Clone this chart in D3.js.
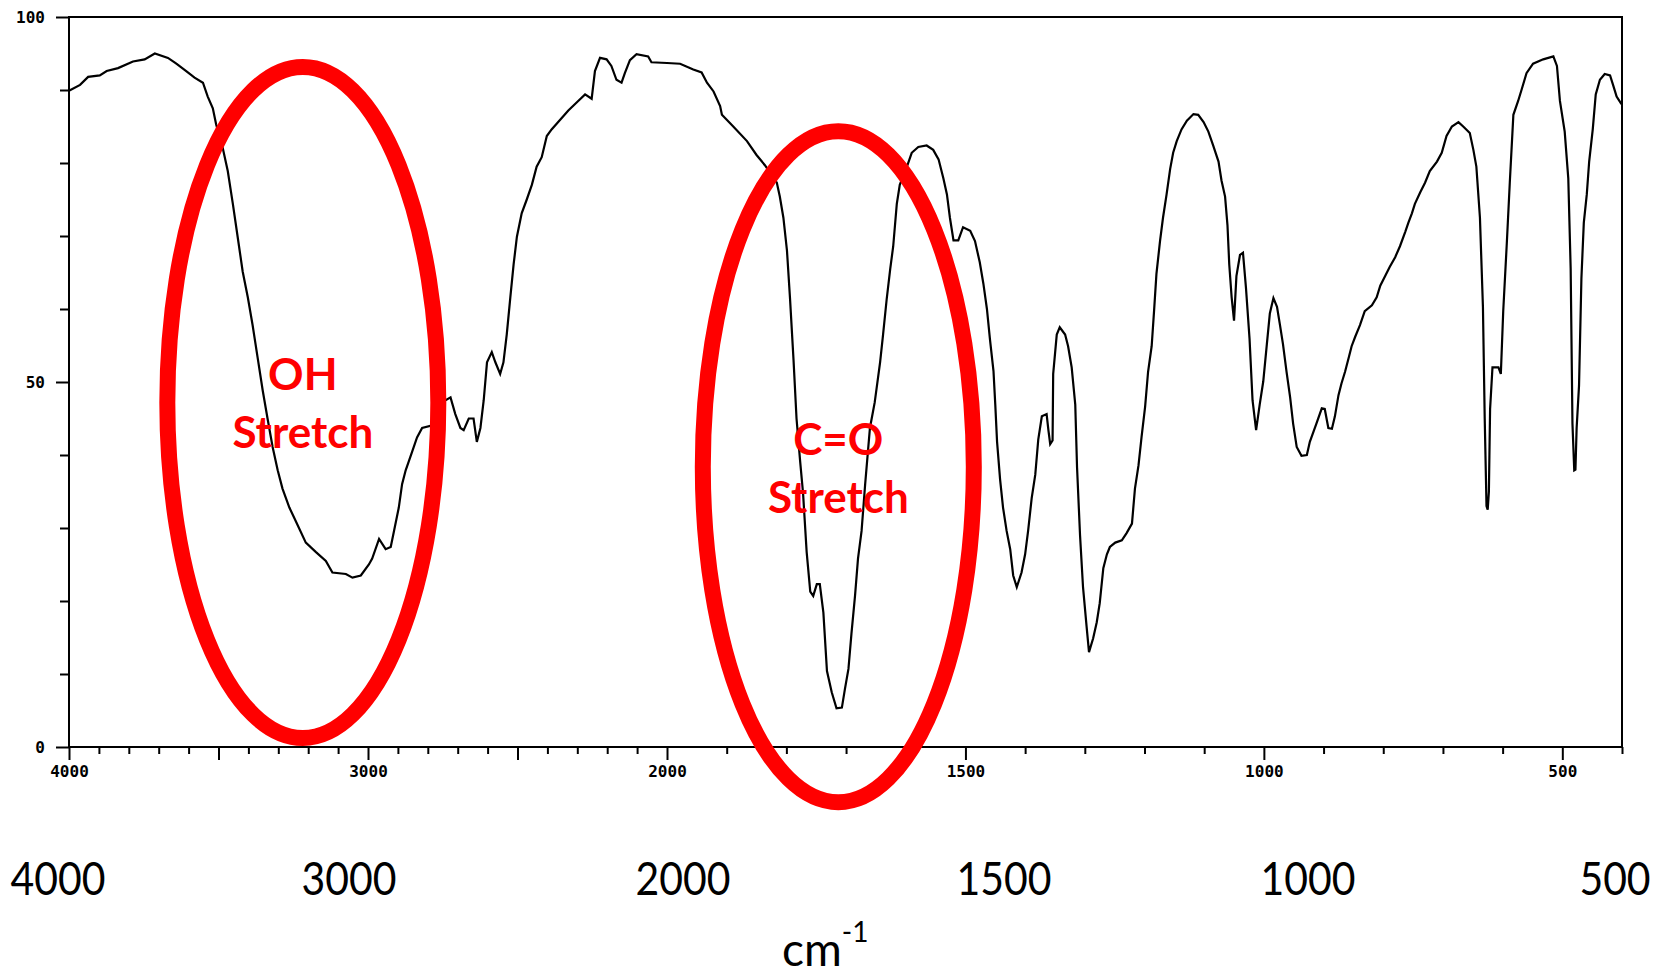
<!DOCTYPE html>
<html><head><meta charset="utf-8">
<script src="https://cdn.jsdelivr.net/npm/d3@7"></script>
<style>
html,body{margin:0;padding:0;background:#fff;}
svg{display:block;}
</style></head>
<body>
<svg id="chart" width="1657" height="976"></svg>
<script>
// IR spectrum: wavenumber (cm-1) vs % transmittance
const wavenumbers = [
  4000,3963,3936,3897,3874,3836,3786,3747,3713,3669,3641,3608,3580,3552,3536,3519,3508,3486,3469,3452,
  3436,3419,3402,3386,3369,3352,3336,3319,3302,3286,3263,3241,3208,3174,3141,3119,3074,3052,3024,2997,
  2986,2963,2941,2924,2913,2897,2886,2874,2863,2852,2836,2819,2791,2741,2724,2708,2691,2680,2663,2647,
  2636,2624,2613,2602,2586,2574,2558,2547,2536,2524,2513,2502,2486,2469,2452,2436,2419,2402,2386,2358,
  2330,2297,2274,2252,2241,2224,2202,2186,2169,2152,2141,2124,2102,2063,2052,2000,1978,1956,1942,1933,
  1922,1911,1908,1889,1866,1850,1836,1816,1811,1805,1799,1794,1788,1783,1777,1772,1766,1760,1755,1749,
  1744,1738,1732,1724,1716,1707,1702,1696,1691,1685,1680,1674,1668,1660,1652,1643,1638,1632,1626,1621,
  1615,1610,1598,1590,1579,1565,1554,1545,1537,1531,1526,1520,1512,1504,1492,1484,1476,1470,1464,1459,
  1453,1450,1447,1442,1437,1431,1425,1420,1414,1406,1400,1395,1389,1383,1378,1372,1364,1361,1358,1354,
  1353,1347,1342,1333,1328,1322,1316,1313,1308,1303,1297,1293,1286,1280,1275,1269,1263,1258,1249,1238,
  1230,1221,1216,1210,1205,1199,1194,1188,1184,1180,1174,1169,1163,1157,1152,1146,1138,1129,1118,1110,
  1101,1093,1085,1076,1071,1065,1061,1058,1054,1050,1046,1040,1035,1030,1024,1019,1013,1007,1001,995,
  990,984,978,973,968,962,956,951,945,937,928,923,912,903,898,892,886,881,875,870,
  864,858,853,847,839,831,819,811,805,797,789,780,772,763,758,752,747,738,730,722,
  710,702,694,685,674,666,655,649,644,638,633,630,627,625,623,621,617,607,603,599,
  593,588,582,574,568,560,549,532,515,509,504,496,490,486,483,480,478,476,472,468,
  464,459,455,449,444,437,429,420,415,409,402,400
];
const transmittance = [
  89.9,90.7,91.8,92.0,92.6,93.0,93.9,94.2,95.0,94.4,93.6,92.6,91.7,91.0,89.1,87.5,85.3,82.1,78.9,74.4,
  69.9,65.1,61.6,57.8,53.3,48.8,45.0,41.1,37.9,35.4,32.8,30.9,28.0,26.7,25.5,23.9,23.7,23.2,23.5,25.0,
  25.8,28.5,27.1,27.4,29.6,32.8,36.0,37.9,39.2,40.5,42.4,43.7,44.0,47.5,47.9,45.6,43.7,43.4,45.0,45.0,
  41.8,43.7,47.5,52.7,54.1,52.7,51.1,52.7,56.5,61.6,66.1,69.9,73.1,75.0,77.0,79.5,80.8,83.7,84.6,85.9,
  87.2,88.5,89.4,88.8,92.6,94.4,94.2,93.3,91.4,91.0,92.3,94.1,94.9,94.6,93.8,93.7,93.6,92.8,92.4,91.0,
  89.8,87.8,86.6,85.0,83.0,81.1,79.7,77.3,75.4,72.5,68.0,61.6,53.0,45.0,39.2,34.7,26.7,21.3,20.7,22.3,
  22.3,18.4,10.4,7.5,5.3,5.4,7.9,10.7,15.5,20.7,25.8,29.6,36.0,43.7,47.2,52.7,56.5,61.3,65.5,68.6,
  74.4,77.0,79.5,81.4,82.2,82.4,81.8,80.5,77.9,75.7,72.5,69.4,69.4,71.2,70.7,69.3,66.4,63.5,60.0,55.9,
  51.5,46.9,41.8,36.7,32.8,29.6,27.1,23.5,21.9,23.9,26.4,29.6,34.1,37.3,42.1,45.3,45.6,43.4,41.5,42.0,
  51.1,56.5,57.5,56.5,54.9,52.0,46.9,38.3,29.0,21.9,16.5,13.0,14.9,17.1,19.7,24.5,26.4,27.4,28.0,28.3,
  29.3,30.6,35.4,38.6,42.4,46.6,51.4,54.9,59.7,64.8,69.3,72.5,75.7,79.2,81.4,83.0,84.6,85.8,86.7,86.6,
  85.6,84.3,82.4,80.2,77.6,75.4,71.5,66.1,61.6,58.4,64.5,67.4,67.7,62.9,55.9,47.5,43.4,46.9,50.1,55.2,
  59.4,61.5,60.3,57.8,55.2,51.4,47.9,44.3,41.1,39.9,40.0,41.8,44.3,46.4,46.3,43.7,43.6,45.3,48.2,49.8,
  51.4,53.3,54.9,56.2,57.8,59.7,60.5,61.6,63.2,64.5,65.8,67.1,68.6,70.6,71.8,73.1,74.4,76.0,77.3,78.9,
  80.2,81.4,83.7,85.0,85.6,85.0,84.1,81.8,79.5,72.5,60.3,45.0,33.0,32.5,35.0,46.3,52.0,52.0,51.1,59.7,
  69.0,77.3,86.6,88.5,90.1,92.3,93.6,94.2,94.6,93.3,88.5,84.3,77.9,65.5,44.3,37.9,38.0,43.7,49.5,64.2,
  71.8,75.7,80.2,84.6,89.4,91.4,92.2,92.0,90.7,89.1,88.2,88.0
];

const xTickValues = d3.range(4000, 399, -100);
const xMajorTicks = [4000, 3500, 3000, 2500, 2000, 1500, 1000, 500];
const xTickLabels = [4000, 3000, 2000, 1500, 1000, 500];
const yTickValues = d3.range(0, 101, 10);
const yTickLabels = [0, 50, 100];
const captionLabels = ["4000", "3000", "2000", "1500", "1000", "500"];
const unitLabel = "cm";
const unitExponent = "-1";

// highlighted bands
const bandNames = ["OH", "C=O"];
const bandCenterWn = [3218, 1713];
const bandCenterT = [47.2, 38.4];
const bandSubtitle = "Stretch";

const svg = d3.select("#chart");
const W = 1657, H = 976;
svg.append("rect").attr("width", W).attr("height", H).attr("fill", "#fff");

// wavenumber axis is expanded 2x below 2000 cm-1
const x = d3.scaleLinear().domain([4000, 2000, 400]).range([69, 667, 1622]);
const y = d3.scaleLinear().domain([0, 100]).range([747, 17]);

const tickFont = "'DejaVu Sans Mono', monospace";

// bottom axis
const xAxis = d3.axisBottom(x)
  .tickValues(xTickValues)
  .tickSizeOuter(0)
  .tickSize(6)
  .tickFormat(d => xTickLabels.includes(d) ? d : "");
const gx = svg.append("g").attr("transform", `translate(0,${y(0)})`).call(xAxis);
gx.select(".domain").remove();
gx.selectAll(".tick line")
  .attr("stroke", "#000").attr("stroke-width", 2)
  .attr("y2", d => xMajorTicks.includes(d) ? 13 : 7);
gx.selectAll(".tick text")
  .attr("y", 24).attr("dy", "0.35em")
  .attr("font-family", tickFont).attr("font-weight", "bold")
  .attr("font-size", 16).attr("fill", "#000");

// left axis
const yAxis = d3.axisLeft(y)
  .tickValues(yTickValues)
  .tickSizeOuter(0)
  .tickSize(9)
  .tickFormat(d => yTickLabels.includes(d) ? d : "");
const gy = svg.append("g").attr("transform", `translate(${x(4000)},0)`).call(yAxis);
gy.select(".domain").remove();
gy.selectAll(".tick line")
  .attr("stroke", "#000").attr("stroke-width", 2)
  .attr("x2", d => yTickLabels.includes(d) ? -13 : -9);
gy.selectAll(".tick text")
  .attr("x", -24).attr("dy", "0.35em")
  .attr("font-family", tickFont).attr("font-weight", "bold")
  .attr("font-size", 16).attr("fill", "#000");

// plot frame
svg.append("rect")
  .attr("x", x(4000)).attr("y", y(100))
  .attr("width", x(400) - x(4000)).attr("height", y(0) - y(100))
  .attr("fill", "none").attr("stroke", "#000").attr("stroke-width", 2);

// spectrum trace
const spectrum = wavenumbers.map((w, i) => [w, transmittance[i]]);
svg.append("path")
  .datum(spectrum)
  .attr("fill", "none")
  .attr("stroke", "#000")
  .attr("stroke-width", 2.2)
  .attr("stroke-linejoin", "miter")
  .attr("d", d3.line().x(d => x(d[0])).y(d => y(d[1])));

// large slide captions below the plot (text-box centres on the slide)
const captionCentres = [58, 349, 683, 1004, 1308, 1615];
svg.append("g").selectAll("text")
  .data(captionLabels).join("text")
  .attr("transform", (d, i) => `translate(${captionCentres[i]},895) scale(0.87,1)`)
  .attr("text-anchor", "middle")
  .attr("font-family", "Lato, 'Open Sans', sans-serif")
  .attr("font-size", 47)
  .attr("fill", "#000")
  .text(d => d);

const unit = svg.append("text")
  .attr("x", 782).attr("y", 966)
  .attr("font-family", "Lato, 'Open Sans', sans-serif")
  .attr("font-size", 46)
  .attr("fill", "#000");
unit.append("tspan").text(unitLabel);
unit.append("tspan").attr("font-size", 28).attr("dy", -24).text(unitExponent);

// highlighted bands
const bands = svg.append("g");
bandNames.forEach((name, i) => {
  const cx = x(bandCenterWn[i]), cy = y(bandCenterT[i]);
  bands.append("ellipse")
    .attr("cx", cx).attr("cy", cy)
    .attr("rx", 135.5).attr("ry", 335.5)
    .attr("fill", "none").attr("stroke", "#ff0000").attr("stroke-width", 16);
  bands.append("text")
    .attr("x", cx).attr("y", cy - 12)
    .attr("text-anchor", "middle")
    .attr("font-family", "Lato, sans-serif").attr("font-weight", "bold")
    .attr("font-size", 44).attr("fill", "#ff0000")
    .text(name);
  bands.append("text")
    .attr("x", cx).attr("y", cy + 46)
    .attr("text-anchor", "middle")
    .attr("font-family", "Lato, sans-serif").attr("font-weight", "bold")
    .attr("font-size", 44).attr("fill", "#ff0000")
    .text(bandSubtitle);
});
</script>
</body></html>
